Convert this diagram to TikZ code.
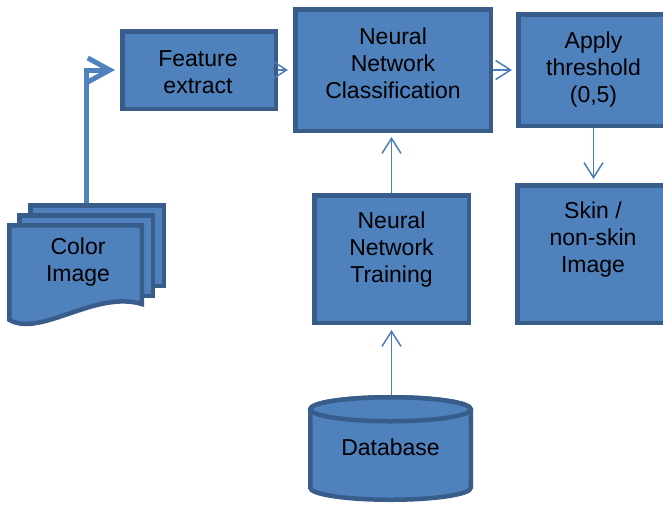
\documentclass[tikz,border=0pt]{standalone}
\usepackage{fontspec}
\setmainfont{Liberation Sans}
\usetikzlibrary{arrows.meta}
\definecolor{boxfill}{HTML}{4F81BD}
\definecolor{boxline}{HTML}{385D8A}
\definecolor{linkblue}{HTML}{4A7EBB}
\begin{document}
\begin{tikzpicture}[x=1pt,y=-1pt,
  box/.style={draw=boxline, fill=boxfill, line width=4.5pt, inner sep=0pt},
  sheet/.style={draw=boxline, fill=boxfill, line width=4.5pt, line join=miter},
  txt/.style={align=center, font=\fontsize{23}{27}\selectfont, inner sep=0pt, text=black},
  link/.style={draw=linkblue, line width=1.5pt, -{Straight Barb[length=15pt,width=19pt]}, shorten >=4pt},
  biglink/.style={draw=boxfill, line width=5pt, -{Straight Barb[length=22pt,width=24pt]}, shorten >=5pt}]
\useasboundingbox (0,0) rectangle (663,504);
\clip (0,0) rectangle (663,504);

% process boxes
\node[box, minimum width=153.5pt, minimum height=77.5pt]  (feat)  at (199,70) {};
\node[box, minimum width=195.5pt, minimum height=121.5pt] (nnc)   at (393,70) {};
\node[box, minimum width=150.5pt, minimum height=111.5pt] (thr)   at (593.5,70) {};
\node[box, minimum width=151.5pt, minimum height=137.5pt] (skin)  at (593,254) {};
\node[box, minimum width=154.5pt, minimum height=127.5pt] (train) at (391.5,259) {};

% box captions
\node[txt] (featT)  at (198,72)    {Feature\\extract};
\node[txt] (nncT)   at (393,63)    {Neural\\Network\\Classification};
\node[txt] (thrT)   at (593.5,70)  {Apply\\threshold\\(0,5)};
\node[txt] (skinT)  at (593,240)   {Skin /\\non-skin\\Image};
\node[txt] (trainT) at (391.5,250) {Neural\\Network\\Training};

% stacked documents (colour image)
\draw[sheet] (30.25,205.25) rectangle (163.75,285.75);
\draw[sheet] (19.25,215.25) rectangle (152.75,295.75);
\draw[sheet] (9.25,225.25) -- (141.75,225.25) -- (141.75,304)
  .. controls (95,290) and (40,338) .. (9.25,319.75) -- cycle;
\node[txt] (img) at (78,262.5) {Color\\Image};
\coordinate (imgtop) at (86,203);

% database cylinder
\draw[sheet] (310.25,409.25) -- (310.25,487.75)
  arc[start angle=180, end angle=0, x radius=80.25, y radius=12]
  -- (470.75,409.25)
  arc[start angle=0, end angle=-180, x radius=80.25, y radius=12] -- cycle;
\draw[sheet] (390.5,409.25) ellipse [x radius=80.25, y radius=12];
\node[txt, minimum width=165pt, minimum height=107pt] (db) at (390.5,448.5) {};
\node[txt] (dbT) at (390.5,447) {Database};

% connectors
\draw[biglink] (imgtop) |- (feat.west);
\draw[link, shorten >=5pt] (feat.east) -- (nnc.west);
\draw[link] (nnc.east) -- (thr.west);
\draw[link] (thr.south) -- (thr.south |- skin.north);
\draw[link] (train.north) -- (train.north |- nnc.south);
\draw[link, shorten >=5pt] (db.north -| train.south) -- (train.south);
\end{tikzpicture}
\end{document}
